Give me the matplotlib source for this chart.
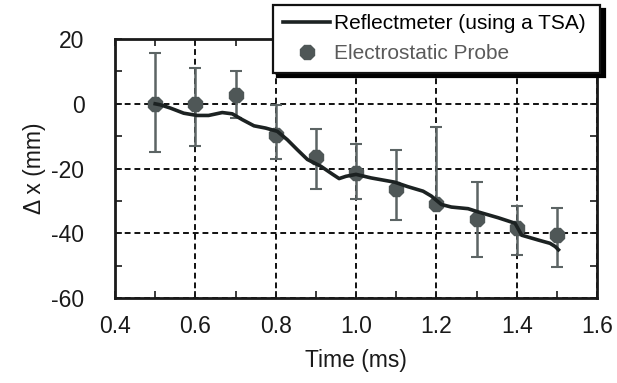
import numpy as np
import matplotlib
matplotlib.use("Agg")
import matplotlib.pyplot as plt
from matplotlib.ticker import MultipleLocator
from matplotlib.lines import Line2D

plt.rcParams['font.family'] = ['Liberation Sans', 'DejaVu Sans']
plt.rcParams['axes.unicode_minus'] = False

# reflectometer curve
refl_t = [0.5, 0.5125, 0.5375, 0.571, 0.604, 0.633, 0.667, 0.692, 0.717, 0.746,
          0.775, 0.804, 0.829, 0.854, 0.879, 0.9125, 0.942, 0.958, 0.975, 1.0,
          1.0375, 1.096, 1.129, 1.167, 1.1875, 1.2125, 1.2375, 1.279, 1.304,
          1.354, 1.396, 1.4125, 1.454, 1.483, 1.496, 1.504]
refl_dx = [0.0, -0.3, -1.3, -2.9, -3.6, -3.6, -2.7, -3.1, -4.9, -6.8,
           -7.5, -8.5, -11.1, -14.2, -17.2, -19.3, -21.8, -23.1, -22.4, -21.8,
           -22.9, -24.2, -25.6, -27.0, -28.5, -31.1, -31.9, -32.4, -33.4,
           -35.2, -36.9, -40.6, -42.1, -43.1, -44.1, -45.1]

# electrostatic probe points with asymmetric error bars
probe_t = [0.5, 0.6, 0.7, 0.8, 0.9, 1.0, 1.1, 1.2, 1.3, 1.4, 1.5]
probe_dx = [0.0, 0.0, 2.8, -9.5, -16.5, -21.3, -26.3, -30.9, -35.7, -38.3, -40.6]
err_top = [15.6, 11.1, 10.1, -0.4, -7.7, -12.4, -14.4, -7.1, -24.3, -31.7, -32.3]
err_bot = [-14.9, -12.9, -4.4, -16.9, -26.2, -29.3, -36.0, -32.0, -47.4, -46.8, -50.4]

probe_dx = np.array(probe_dx)
yerr = [probe_dx - np.array(err_bot), np.array(err_top) - probe_dx]

mcol = '#4f5757'
fig = plt.figure(figsize=(6.17, 3.83), dpi=100)
ax = fig.add_axes([0.1864, 0.2219, 0.7812, 0.6761])

ax.errorbar(probe_t, probe_dx, yerr=yerr, fmt='8', color=mcol, ms=11,
            ecolor='#5c6464', elinewidth=1.8, capsize=4, capthick=1.5, zorder=3)
ax.plot(refl_t, refl_dx, color='#1c2222', lw=2.6, zorder=4)

ax.set_xlim(0.4, 1.6)
ax.set_ylim(-60, 20)
ax.xaxis.set_minor_locator(MultipleLocator(0.1))
ax.yaxis.set_major_locator(MultipleLocator(20))
ax.yaxis.set_minor_locator(MultipleLocator(10))
ax.set_xticks([0.4, 0.6, 0.8, 1.0, 1.2, 1.4, 1.6])
ax.set_xticklabels(['0.4', '0.6', '0.8', '1.0', '1.2', '1.4', '1.6'])
ax.tick_params(which='both', direction='in', top=True, right=True, width=1.2,
               length=5, labelsize=16.5, labelcolor='#1a1a1a', color='#1a1a1a')
ax.tick_params(axis='y', pad=22)
ax.tick_params(axis='x', pad=12)
ax.grid(True, which='major', linestyle=(0, (3, 2)), color='#111111', lw=1.4)
for s in ax.spines.values():
    s.set_linewidth(2)
    s.set_color('#1a1a1a')

ax.set_xlabel('Time (ms)', fontsize=16.5, color='#1a1a1a', labelpad=8)
ax.set_ylabel('\u0394 x (mm)', fontsize=16.5, color='#1a1a1a', labelpad=4)

handles = [Line2D([], [], color='#1c2222', lw=2.6),
           Line2D([], [], ls='none', marker='8', ms=11, color=mcol)]
labels = ['Reflectmeter (using a TSA) ', 'Electrostatic Probe']
leg = fig.legend(handles, labels, loc='upper right', bbox_to_anchor=(0.973, 0.988),
                 fontsize=15, fancybox=False, handlelength=2.3, handletextpad=0.15,
                 borderpad=0.45, labelspacing=0.55, borderaxespad=0,
                 shadow={'color': 'black', 'alpha': 1.0, 'ox': 3, 'oy': -3})
leg.get_frame().set_edgecolor('#111111')
leg.get_frame().set_linewidth(1.6)
leg.get_frame().set_alpha(1)
leg.get_texts()[1].set_color('#5a5a5a')

fig.savefig('out.png', dpi=100)
